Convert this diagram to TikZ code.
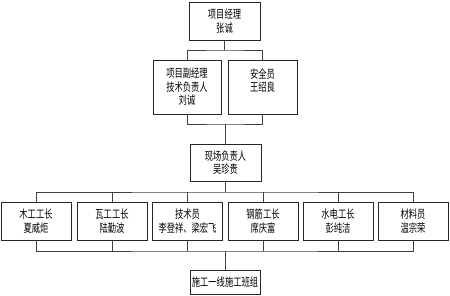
\documentclass[tikz,border=0pt]{standalone}
\usepackage{fontspec}
\newfontfamily\cjk[FakeStretch=0.72]{Noto Sans CJK SC}
\begin{document}
\begin{tikzpicture}[x=1pt,y=1pt,
  box/.style={draw=black!85, line width=0.9pt, inner sep=0pt, align=center,
    font=\cjk\fontsize{11.5}{13.5}\selectfont, text=black},
  link/.style={draw=black!75, line width=0.9pt}]
\useasboundingbox (0,0) rectangle (450,-296);
% nodes
\node[box, minimum width=71, minimum height=38] (top) at (224.5,-21) {项目经理\\张诚};
\node[box, minimum width=68, minimum height=54] (fj) at (187,-87) {项目副经理\\技术负责人\\刘诚};
\node[box, minimum width=69, minimum height=54] (aq) at (262.5,-87) {安全员\\王绍良\\\mbox{}};
\node[box, minimum width=71, minimum height=37] (xc) at (225.5,-162.5) {现场负责人\\吴珍贵};
\node[box, minimum width=70, minimum height=38] (w1) at (36,-221) {木工工长\\夏威炬};
\node[box, minimum width=70, minimum height=38] (w2) at (112,-221) {瓦工工长\\陆勤波};
\node[box, minimum width=70, minimum height=38] (w3) at (187.5,-221) {技术员\\李登祥、梁宏飞};
\node[box, minimum width=70, minimum height=38] (w4) at (263,-221) {钢筋工长\\席庆富};
\node[box, minimum width=70, minimum height=38] (w5) at (338,-221) {水电工长\\彭纯洁};
\node[box, minimum width=70, minimum height=38] (w6) at (413,-221) {材料员\\温宗荣};
\node[box, minimum width=70, minimum height=24] (bz) at (225,-282) {施工一线施工班组};
% junction coordinates
\coordinate (j1) at (224.5,-50);
\coordinate (j2) at (225.5,-124);
\coordinate (j3) at (225.5,-192);
\coordinate (j4) at (225,-251);
% connectors
\draw[link] (top.south) -- (j1);
\draw[link] (fj.north) |- (j1) -| (aq.north);
\draw[link] (fj.south) |- (j2) -| (aq.south);
\draw[link] (j2) -- (xc.north);
\draw[link] (xc.south) -- (j3);
\draw[link] (w1.north) |- (j3) -| (w6.north);
\draw[link] (w2.north) -- (w2.north |- j3);
\draw[link] (w3.north) -- (w3.north |- j3);
\draw[link] (w4.north) -- (w4.north |- j3);
\draw[link] (w5.north) -- (w5.north |- j3);
\draw[link] (w1.south) |- (j4) -| (w6.south);
\draw[link] (w2.south) -- (w2.south |- j4);
\draw[link] (w3.south) -- (w3.south |- j4);
\draw[link] (w4.south) -- (w4.south |- j4);
\draw[link] (w5.south) -- (w5.south |- j4);
\draw[link] (j4) -- (bz.north);
\end{tikzpicture}
\end{document}
